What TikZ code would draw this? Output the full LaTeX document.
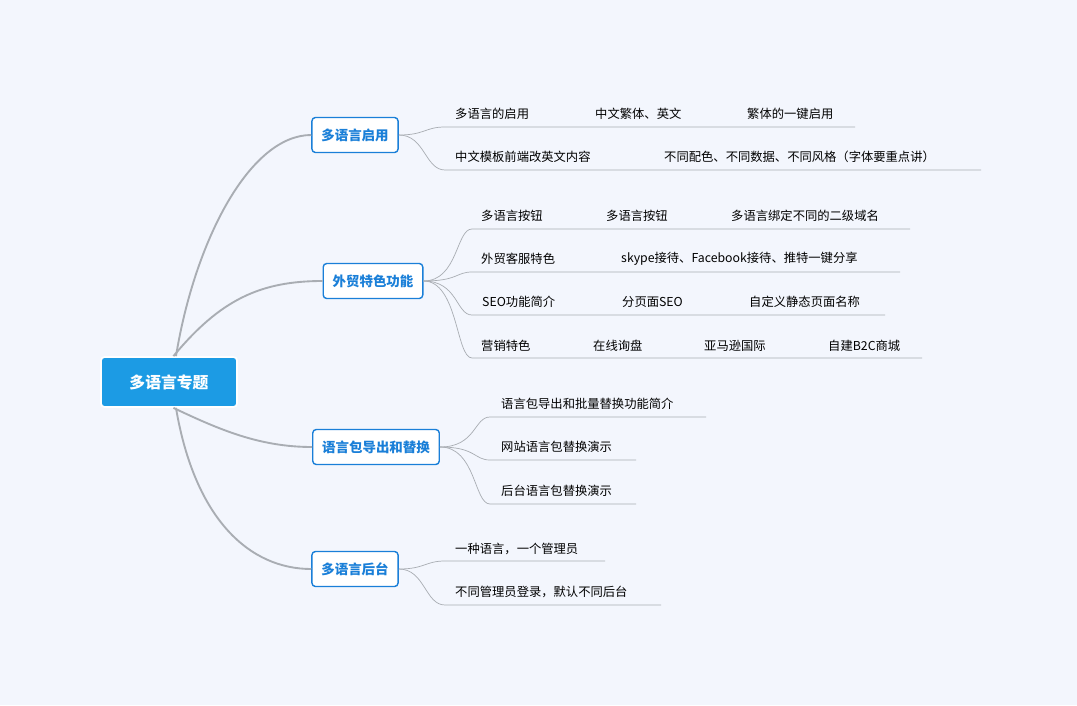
\documentclass[tikz,border=0pt]{standalone}
\usepackage{fontspec}
\setmainfont{Noto Sans CJK SC}
\usetikzlibrary{positioning}
\definecolor{bgcol}{HTML}{F3F6FD}
\definecolor{rootcol}{HTML}{1C9BE4}
\definecolor{boxblue}{HTML}{1A7FD8}
\definecolor{linegray}{HTML}{A9ADB3}
\tikzset{
  rootbox/.style={draw=white, line width=1.5pt, fill=rootcol, rounded corners=3pt,
    minimum width=136*0.03cm, minimum height=50*0.03cm, text=white,
    font=\fontsize{13.5}{16}\selectfont\bfseries},
  branchbox/.style={draw=boxblue, line width=1.2pt, fill=white, rounded corners=3pt,
    minimum height=35*0.03cm, inner xsep=8pt, text=boxblue,
    font=\fontsize{11.5}{14}\selectfont\bfseries},
  leaf/.style={anchor=west, inner sep=0pt, font=\fontsize{10.5}{13}\selectfont},
  trunk/.style={draw=linegray, line width=1.6pt},
  twig/.style={draw=linegray, line width=0.6pt}
}
\begin{document}
\begin{tikzpicture}[x=0.03cm, y=-0.03cm]
\fill[bgcol] (0,0) rectangle (1077,705);
\useasboundingbox (0,0) rectangle (1077,705);

% root
\node[rootbox] (root) at (169,382) {多语言专题};

% branches
\node[branchbox] (b1) at (355,135) {多语言启用};
\node[branchbox] (b2) at (373,281) {外贸特色功能};
\node[branchbox] (b3) at (376,447) {语言包导出和替换};
\node[branchbox] (b4) at (355,569) {多语言后台};

\draw[trunk] ([xshift=5pt]root.north west) ++(70,0) .. controls (195,240) and (250,135) .. (b1.west);
\draw[trunk] ([xshift=-55pt]root.north east) .. controls (220,300) and (260,281) .. (b2.west);
\draw[trunk] ([xshift=-55pt]root.south east) .. controls (220,430) and (260,447) .. (b3.west);
\draw[trunk] ([xshift=5pt]root.south west) ++(70,0) .. controls (195,520) and (250,569) .. (b4.west);

% branch 1
\node[leaf] (l11) at (455,114) {多语言的启用};
\node[leaf] (l12) at (595,114) {中文繁体、英文};
\node[leaf] (l13) at (747,114) {繁体的一键启用};
\node[leaf] (l21) at (455,157) {中文模板前端改英文内容};
\node[leaf] (l22) at (664,157) {不同配色、不同数据、不同风格（字体要重点讲）};
\coordinate (e11) at (855,127);
\coordinate (e12) at (981,170);
\draw[twig] (b1.east) .. controls (425,135) and (425,127) .. (445,127) -- (e11);
\draw[twig] (b1.east) .. controls (425,135) and (425,170) .. (445,170) -- (e12);

% branch 2
\node[leaf] (m11) at (481,216) {多语言按钮};
\node[leaf] (m12) at (606,216) {多语言按钮};
\node[leaf] (m13) at (731,216) {多语言绑定不同的二级域名};
\node[leaf] (m21) at (481,259) {外贸客服特色};
\node[leaf] (m22) at (621,259) {skype接待、Facebook接待、推特一键分享};
\node[leaf] (m31) at (482,302) {SEO功能简介};
\node[leaf] (m32) at (622,302) {分页面SEO};
\node[leaf] (m33) at (749,302) {自定义静态页面名称};
\node[leaf] (m41) at (481,346) {营销特色};
\node[leaf] (m42) at (593,346) {在线询盘};
\node[leaf] (m43) at (704,346) {亚马逊国际};
\node[leaf] (m44) at (828,346) {自建B2C商城};
\coordinate (e21) at (910,229);
\coordinate (e22) at (900,272);
\coordinate (e23) at (885,315);
\coordinate (e24) at (922,358);
\foreach \y/\e in {229/e21, 272/e22, 315/e23, 358/e24}
  \draw[twig] (b2.east) .. controls (458,281) and (456,\y) .. (472,\y) -- (\e);

% branch 3
\node[leaf] (n1) at (501,404) {语言包导出和批量替换功能简介};
\node[leaf] (n2) at (501,447) {网站语言包替换演示};
\node[leaf] (n3) at (501,491) {后台语言包替换演示};
\coordinate (e31) at (706,417);
\coordinate (e32) at (636,460);
\coordinate (e33) at (636,504);
\foreach \y/\e in {417/e31, 460/e32, 504/e33}
  \draw[twig] (b3.east) .. controls (476,447) and (474,\y) .. (490,\y) -- (\e);

% branch 4
\node[leaf] (p1) at (455,549) {一种语言，一个管理员};
\node[leaf] (p2) at (455,592) {不同管理员登录，默认不同后台};
\coordinate (e41) at (605,561);
\coordinate (e42) at (661,605);
\draw[twig] (b4.east) .. controls (425,569) and (425,561) .. (445,561) -- (e41);
\draw[twig] (b4.east) .. controls (425,569) and (425,605) .. (445,605) -- (e42);
\end{tikzpicture}
\end{document}
